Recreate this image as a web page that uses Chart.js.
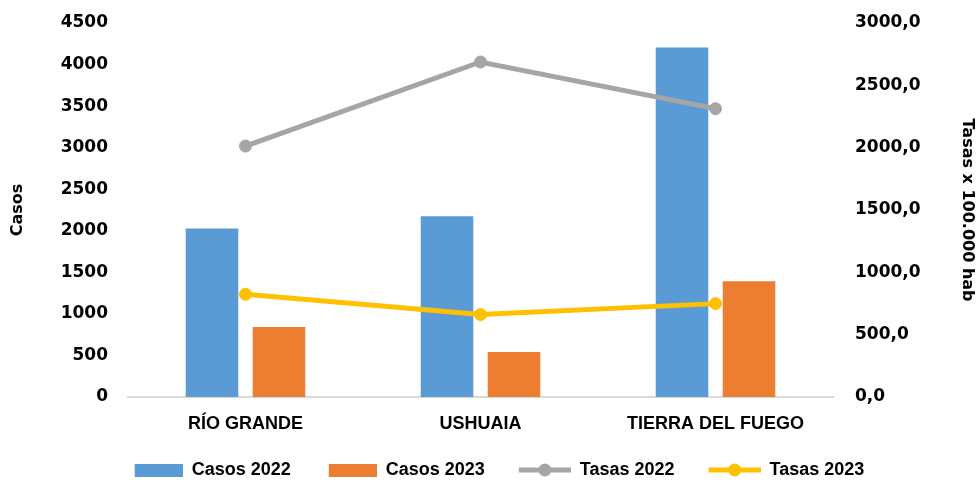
<!DOCTYPE html>
<html>
<head>
<meta charset="utf-8">
<script src="https://cdn.jsdelivr.net/npm/chart.js@4.4.1/dist/chart.umd.min.js"></script>
<style>
  body { margin: 0; background: #fff; }
  #caja { width: 977px; height: 487px; }
</style>
</head>
<body>
<div id="caja"><canvas id="myChart" width="977" height="487"></canvas></div>
<script>
// Datos
var lista_lugares = ['RÍO GRANDE', 'USHUAIA', 'TIERRA DEL FUEGO'];
var casos_2022 = [2026, 2174, 4204];
var casos_2023 = [842, 541, 1392];
var tasas_2022 = [2013, 2687, 2313];
var tasas_2023 = [824, 661, 749];

var ticks_casos = [0, 4500, 500];   // min, max, paso
var ticks_tasas = [0, 3000, 500];

var AZUL = '#5B9BD5';
var NARANJA = '#ED7D31';
var GRIS = '#A5A5A5';
var AMARILLO = '#FFC000';

var fuenteEjes = "'DejaVu Sans', Verdana, sans-serif";
var fuenteTexto = "'Liberation Sans', Arial, sans-serif";

// iconos de la leyenda (rectangulo para barras, linea con punto para lineas)
// el margen transparente a la izquierda separa un item del anterior
var ANCHO_ICONO = 62;

function iconoBarra(color) {
    var c = document.createElement('canvas');
    c.width = ANCHO_ICONO; c.height = 13;
    var ctx = c.getContext('2d');
    ctx.fillStyle = color;
    ctx.fillRect(ANCHO_ICONO - 48, 0, 48, 13);
    return c;
}

function iconoLinea(color) {
    var c = document.createElement('canvas');
    c.width = ANCHO_ICONO; c.height = 14;
    var ctx = c.getContext('2d');
    ctx.strokeStyle = color;
    ctx.lineWidth = 5;
    ctx.beginPath();
    ctx.moveTo(ANCHO_ICONO - 52, 7);
    ctx.lineTo(ANCHO_ICONO, 7);
    ctx.stroke();
    ctx.fillStyle = color;
    ctx.beginPath();
    ctx.arc(ANCHO_ICONO - 26, 7, 6.5, 0, Math.PI * 2);
    ctx.fill();
    return c;
}

var iconos = [iconoBarra(AZUL), iconoBarra(NARANJA), iconoLinea(GRIS), iconoLinea(AMARILLO)];

// el eje y no reserva espacio extra arriba (lo pone layout.padding)
function ajustarEjeY(ancho) {
    return function (scale) {
        scale.width = ancho;
        scale.paddingTop = 0;
    };
}

const ctx = document.getElementById('myChart');

var Grafico = new Chart(ctx, {
    type: 'bar',
    data: {
        labels: lista_lugares,
        datasets: [{
            label: 'Casos 2022',
            data: casos_2022,
            backgroundColor: AZUL,
            yAxisID: 'y',
            order: 2
        },
        {
            label: 'Casos 2023',
            data: casos_2023,
            backgroundColor: NARANJA,
            yAxisID: 'y',
            order: 2
        },
        {
            type: 'line',
            label: 'Tasas 2022',
            data: tasas_2022,
            borderColor: GRIS,
            backgroundColor: GRIS,
            borderWidth: 5,
            pointRadius: 6,
            pointBorderWidth: 1,
            yAxisID: 'y1',
            order: 1
        },
        {
            type: 'line',
            label: 'Tasas 2023',
            data: tasas_2023,
            borderColor: AMARILLO,
            backgroundColor: AMARILLO,
            borderWidth: 5,
            pointRadius: 6,
            pointBorderWidth: 1,
            yAxisID: 'y1',
            order: 1
        }]
    },
    options: {
        responsive: false,
        animation: false,
        categoryPercentage: 0.57,
        barPercentage: 0.785,
        layout: { padding: { top: 23, left: 8, right: 0, bottom: -2 } },
        plugins: {
            tooltip: { enabled: false },
            legend: {
                position: 'bottom',
                labels: {
                    usePointStyle: true,
                    pointStyleWidth: ANCHO_ICONO,
                    padding: 24,
                    color: '#000',
                    font: { family: fuenteTexto, size: 18, weight: 'bold' },
                    generateLabels: function (chart) {
                        var items = Chart.defaults.plugins.legend.labels.generateLabels(chart);
                        items.sort(function (a, b) { return a.datasetIndex - b.datasetIndex; });
                        items.forEach(function (it) { it.pointStyle = iconos[it.datasetIndex]; });
                        return items;
                    }
                }
            }
        },
        scales: {
            x: {
                grid: { display: false, drawTicks: false },
                border: { display: true, color: '#D9D9D9', width: 2 },
                afterFit: function (scale) { scale.height = 40; },
                ticks: {
                    padding: 16,
                    color: '#000',
                    font: { family: fuenteTexto, size: 18, weight: 'bold' }
                }
            },
            y: {
                position: 'left',
                min: ticks_casos[0],
                max: ticks_casos[1],
                grid: { display: false, drawTicks: false },
                border: { display: false },
                afterFit: ajustarEjeY(120),
                ticks: {
                    stepSize: ticks_casos[2],
                    padding: 20,
                    color: '#000',
                    font: { family: fuenteEjes, size: 17, weight: 'bold' },
                    callback: function (v) { return String(v); }
                },
                title: {
                    display: true,
                    text: 'Casos',
                    color: '#000',
                    padding: { top: 0, bottom: 0 },
                    font: { family: fuenteEjes, size: 16, weight: 'bold' }
                }
            },
            y1: {
                position: 'right',
                min: ticks_tasas[0],
                max: ticks_tasas[1],
                grid: { display: false, drawTicks: false },
                border: { display: false },
                afterFit: ajustarEjeY(144),
                ticks: {
                    stepSize: ticks_tasas[2],
                    padding: 22,
                    color: '#000',
                    font: { family: fuenteEjes, size: 17, weight: 'bold' },
                    callback: function (v) { return v.toFixed(1).replace('.', ','); }
                },
                title: {
                    display: true,
                    text: 'Tasas x 100.000 hab',
                    color: '#000',
                    padding: { top: 0, bottom: 0 },
                    font: { family: fuenteEjes, size: 16, weight: 'bold' }
                }
            }
        }
    }
});
</script>
</body>
</html>
